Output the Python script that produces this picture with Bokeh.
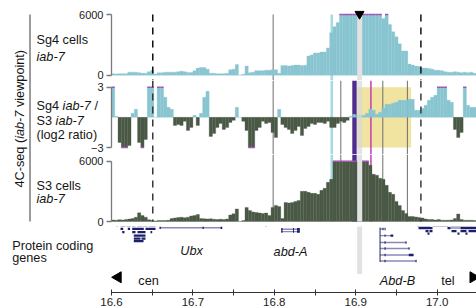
import math
from bokeh.plotting import figure
from bokeh.layouts import column, row
from bokeh.models import Range1d, FixedTicker, PrintfTickFormatter, Label
from bokeh.embed import file_html
from bokeh.resources import INLINE

FONT = "Liberation Sans"

# ---------------- data ----------------
BIN_START = 16.600   # Mb
BIN_WIDTH = 0.004    # Mb
COUNT_MAX = 6000
RATIO_MAX = 3.0

sg4_counts = [
    150, 120, 150, 150, 150, 300, 300, 300, 250, 200,
    200, 350, 480, 120, 230, 250, 300, 300, 300, 300,
    350, 400, 350, 270, 270, 430, 700, 760, 760, 600,
    200, 200, 150, 150, 150, 200, 550, 600, 1050, 0,
    100, 900, 250, 300, 450, 450, 450, 500, 500, 550,
    550, 200, 950, 950, 900, 950, 1000, 1000, 950, 980,
    1900, 2000, 2200, 2200, 2300, 2300, 2700, 4200, 4800, 5200,
    6000, 6000, 6000, 6000, 6000, 6000, 6000, 6000, 6000, 6000,
    6000, 6000, 6000, 5600, 6000, 5000, 4300, 3800, 3100, 2400,
    2400, 1100, 1000, 900, 850, 700, 700, 650, 600, 500,
    500, 450, 350, 300, 300, 350, 300, 250, 300, 250,
    300, 200]

ratio_log2 = [
    3.0, 0.1, -2.5, -3.0, -3.0, -2.8, 0.4, 0.8, -2.5, -3.0,
    -2.2, 3.0, 3.0, 0.0, 3.0, 3.0, 2.0, 1.0, 0.8, -0.8,
    -0.7, -0.8, -0.4, -1.3, -1.0, 0.2, -0.8, 0.4, 2.0, 2.6,
    -1.9, -1.6, -1.0, -0.6, -1.2, -1.0, -0.5, -0.3, 1.0, 0.0,
    -0.4, -1.3, -3.0, -3.0, -1.3, -1.0, -0.4, -0.6, -0.5, -1.5,
    -2.0, 0.8, -0.7, -1.0, -1.2, -1.6, -1.3, -0.9, -1.8, -1.1,
    -0.9, -0.6, -0.7, -0.5, -0.5, -0.6, -0.4, -1.0, -1.0, -0.6,
    -0.4, -0.5, -0.3, 0.1, 0.3, 0.2, 0.2, 0.2, 0.4, 0.8,
    0.7, 0.3, 0.5, 0.9, 1.3, 1.3, 1.4, 1.5, 1.7, 1.7,
    1.7, 1.8, 1.8, 0.7, 0.7, 0.9, 1.2, 1.7, 2.0, 2.2,
    3.0, 3.0, 3.0, 1.7, 1.5, -1.2, -2.0, -1.5, 3.0, 1.2,
    1.0, 1.0]

s3_counts = [
    150, 120, 180, 150, 200, 250, 300, 430, 860, 600,
    430, 170, 120, 60, 100, 100, 100, 120, 300, 350,
    400, 430, 380, 430, 550, 600, 700, 300, 270, 250,
    270, 220, 200, 230, 200, 250, 650, 760, 1250, 0,
    100, 1400, 1100, 950, 900, 850, 800, 850, 600, 1400,
    1600, 1500, 300, 1900, 1850, 1900, 2000, 2100, 3000, 3000,
    2900, 2800, 2800, 2700, 3100, 3300, 3900, 4200, 6000, 6000,
    6000, 6000, 6000, 6000, 6000, 6000, 6000, 6000, 6000, 5600,
    4700, 4600, 4300, 4200, 3600, 2900, 2700, 2000, 1600, 1100,
    800, 500, 500, 450, 400, 350, 250, 200, 200, 150,
    200, 130, 130, 130, 150, 300, 750, 200, 120, 130,
    120, 100]

x_major_ticks = [16.6, 16.7, 16.8, 16.9, 17.0]
x_minor_ticks = [16.65, 16.75, 16.85, 16.95]
LOCUS_START = 16.6

# annotations along the locus (Mb)
dashed_lines_mb = [16.6507, 16.9801]
gray_lines_full_mb = [16.7986]
gray_lines_lower_mb = [16.8817, 16.9333, 16.9635]
cyan_band_mb = (16.8690, 16.8722)
purple_band_mb = (16.8958, 16.9012)
gray_band_mb = (16.9018, 16.9079)
magenta_line_mb = 16.9187
viewpoint_mb = 16.9047
yellow_box_mb = (16.9018, 16.9681)

# gene models: exons (dark) and introns (light); row = offset (px) below the track top
exon_left = [16.6590, 16.7118, 16.7340,
             16.8085, 16.8230, 16.8279, 16.8085, 16.8230, 16.8279,
             16.7892,
             16.9293,
             16.60614, 16.61106, 16.61843, 16.62543, 16.63157, 16.63894, 16.64582,
             16.61106, 16.62002, 16.62543, 16.64177,
             16.61314, 16.62543, 16.63194, 16.64791,
             16.62740, 16.62740, 16.63686, 16.62740,
             16.97555, 16.99435, 17.01646,
             16.97715, 17.01278, 17.02875,
             16.98575, 16.99066, 17.01769, 17.02875, 17.03857,
             16.98821, 17.02506, 17.03489]
exon_right = [16.6606, 16.7134, 16.7360,
              16.8101, 16.8242, 16.8313, 16.8101, 16.8242, 16.8313,
              16.7904,
              16.9305,
              16.60799, 16.61720, 16.62334, 16.62948, 16.63771, 16.64386, 16.65405,
              16.61437, 16.62282, 16.63968, 16.65405,
              16.61597, 16.62948, 16.64177, 16.65000,
              16.64177, 16.63563, 16.64177, 16.63931,
              16.99189, 17.01400, 17.04840,
              16.99435, 17.01646, 17.04840,
              16.98943, 16.99435, 17.02383, 17.03612, 17.04840,
              16.99066, 17.02752, 17.03735]
exon_row = [3.3, 3.3, 3.3,
            4.7, 4.7, 4.7, 7.0, 7.0, 7.0,
            1.0,
            20.0,
            1.0, 1.0, 1.0, 1.0, 1.0, 1.0, 1.0,
            4.3, 4.3, 4.3, 4.3,
            7.5, 7.5, 7.5, 7.5,
            11.0, 14.0, 14.0, 16.5,
            0.8, 0.8, 0.8,
            3.5, 3.5, 3.5,
            6.5, 6.5, 6.5, 6.5, 6.5,
            9.0, 9.0, 9.0]
exon_half = [1.2] * 10 + [17.0] + [1.1] * 33

intron_left = [16.6593, 16.8085, 16.8085, 17.01646]
intron_right = [16.7360, 16.8313, 16.8313, 17.02875]
intron_row = [3.3, 4.7, 7.0, 3.5]

# Abd-B transcripts
abdb_start = 16.9299
abdb_ends = [16.9342, 16.9461, 16.9624, 16.9661, 16.9710, 16.9747]
abdb_last_exon = [16.9330, 16.9428, 16.9612, 16.9649, 16.9652, 16.9735]
abdb_rows = [4.5, 11.0, 17.7, 23.7, 30.0, 36.0]

gene_names = ["Ubx", "abd-A", "Abd-B"]
gene_label_mb = [16.6983, 16.8199, 16.9513]
gene_label_row = [26.5, 27.5, 55.5]

# ---------------- styling / layout ----------------
LIGHT_BLUE = "#88c5d1"
PALE_CYAN = "#a6dbe4"
DARK_GREEN = "#4a5945"
CAP = "#a455b4"
PURPLE = "#4f2d8f"
MAGENTA = "#c23fa9"
GRAY_LINE = "#6e6e6e"
GRAY_BAND = "#e2e2e2"
DASH = "#3a3a3a"
YELLOW = "#f1e3a0"
GENE_DARK = "#1d1f6b"
GENE_LIGHT = "#8a8ab8"
TXT = "#151515"
LBL_PX = 12.7
LBL_SIZE = "12.7px"

PX_PER_MB = 814.0
AXIS_X = 111        # page x of 16.6 Mb
PAGE_RIGHT = 476
TRACK_LEFT = 31     # page x where the three data panels begin

ARIAL_W = {' ': 278, '(': 333, ')': 333, '-': 333, '/': 278, '4': 556, '3': 556,
           '7': 556, 'C': 722, 'S': 667, 'a': 556, 'b': 556, 'e': 556, 'g': 556,
           'i': 222, 'n': 556, 'o': 556, 'p': 556, 'q': 556, 's': 500, 't': 278,
           'v': 500, 'w': 722, 'l': 222, 'r': 333, 'c': 500, '2': 556}


def tw(s, px):
    return sum(ARIAL_W.get(c, 556) for c in s) * px / 1000.0


def lin_range(v_hi, y_hi, v_lo, y_lo, top, bottom):
    k = (v_hi - v_lo) / (y_lo - y_hi)
    start = v_lo - (bottom - y_lo) * k
    end = v_hi + (y_hi - top) * k
    return (start, end), (lambda y: v_lo - (y - y_lo) * k)


def panel(page_left, height, yr, xaxis=False):
    xr = Range1d(LOCUS_START - (AXIS_X - page_left) / PX_PER_MB,
                 LOCUS_START + (PAGE_RIGHT - AXIS_X) / PX_PER_MB)
    p = figure(width=PAGE_RIGHT - page_left, height=height, x_range=xr,
               y_range=Range1d(*yr), output_backend="svg", toolbar_location=None,
               x_axis_location="below" if xaxis else None,
               y_axis_location=None if xaxis else "left",
               min_border_left=0, min_border_right=0,
               min_border_top=0, min_border_bottom=0,
               outline_line_color=None, background_fill_color="white",
               border_fill_color="white")
    p.grid.visible = False
    return p


def style_y(p, ticks, bounds):
    ax = p.yaxis[0]
    ax.fixed_location = LOCUS_START
    ax.ticker = FixedTicker(ticks=ticks)
    ax.bounds = bounds
    ax.axis_line_color = "#7a7a7a"
    ax.axis_line_width = 1.3
    ax.major_tick_line_color = "#7a7a7a"
    ax.major_tick_line_width = 1.3
    ax.major_tick_in = 0
    ax.major_tick_out = 5
    ax.minor_tick_line_color = None
    ax.major_label_text_font = FONT
    ax.major_label_text_font_size = "11px"
    ax.major_label_text_color = "#222222"
    ax.major_label_standoff = 3


def add_label_line(p, frame_left, page_x, y_val, pieces):
    x = page_x - frame_left
    for txt, style in pieces:
        lead = len(txt) - len(txt.lstrip(' '))
        t = txt.strip(' ')
        p.add_layout(Label(x=x + tw(' ' * lead, LBL_PX), y=y_val, x_units="screen",
                           y_units="data", text=t, text_font=FONT, text_font_size=LBL_SIZE,
                           text_font_style=style, text_color=TXT,
                           text_baseline="alphabetic", text_align="left"))
        x += tw(txt, LBL_PX)


n = len(sg4_counts)
lefts = [BIN_START + i * BIN_WIDTH for i in range(n)]
rights = [l + BIN_WIDTH for l in lefts]

# ---------------- panel 1: Sg4 counts (page y 0..80) ----------------
r1, y1 = lin_range(COUNT_MAX, 14, 0, 74.7, 0, 80)
f1 = panel(TRACK_LEFT, 80, r1)
style_y(f1, [0, COUNT_MAX], (0, COUNT_MAX))
f1.quad(left=[cyan_band_mb[0]], right=[cyan_band_mb[1]], bottom=[r1[0]], top=[COUNT_MAX],
        fill_color=PALE_CYAN, line_color=None)
f1.segment(x0=gray_lines_full_mb, x1=gray_lines_full_mb, y0=r1[0], y1=COUNT_MAX,
           line_color=GRAY_LINE, line_width=1)
f1.quad(left=lefts, right=rights, bottom=0, top=[min(v, COUNT_MAX) for v in sg4_counts],
        fill_color=LIGHT_BLUE, line_color=LIGHT_BLUE, line_width=0.3)
sat = [i for i, v in enumerate(sg4_counts) if v >= COUNT_MAX]
f1.segment(x0=[lefts[i] for i in sat], x1=[rights[i] for i in sat], y0=COUNT_MAX, y1=COUNT_MAX,
           line_color=CAP, line_width=1.6)
f1.segment(x0=dashed_lines_mb, x1=dashed_lines_mb, y0=COUNT_MAX, y1=r1[0],
           line_color="#111111", line_width=1.5, line_dash="7 6")
f1.quad(left=[gray_band_mb[0]], right=[gray_band_mb[1]], bottom=[r1[0]], top=[COUNT_MAX],
        fill_color=GRAY_BAND, line_color=None)
f1.scatter(x=[viewpoint_mb], y=[y1(13.5)], marker="inverted_triangle", size=9,
           fill_color="black", line_color="black")
add_label_line(f1, TRACK_LEFT, 36, y1(39.0), [("Sg4 cells", "normal")])
add_label_line(f1, TRACK_LEFT, 36, y1(56.5), [("iab-7", "italic")])

# ---------------- panel 2: log2 ratio (page y 80..154) ----------------
r2, y2 = lin_range(RATIO_MAX, 86.7, -RATIO_MAX, 147, 80, 154)
f2 = panel(TRACK_LEFT, 74, r2)
style_y(f2, [-RATIO_MAX, RATIO_MAX], (-RATIO_MAX, RATIO_MAX))
f2.quad(left=[yellow_box_mb[0]], right=[yellow_box_mb[1]], bottom=[-RATIO_MAX], top=[RATIO_MAX],
        fill_color=YELLOW, line_color=None)
f2.quad(left=[cyan_band_mb[0]], right=[cyan_band_mb[1]], bottom=[r2[0]], top=[r2[1]],
        fill_color=PALE_CYAN, line_color=None)
f2.segment(x0=gray_lines_full_mb + gray_lines_lower_mb, x1=gray_lines_full_mb + gray_lines_lower_mb,
           y0=r2[0], y1=r2[1], line_color=GRAY_LINE, line_width=1)
f2.quad(left=[purple_band_mb[0]], right=[purple_band_mb[1]], bottom=[r2[0]], top=[r2[1]],
        fill_color=PURPLE, line_color=None)
f2.segment(x0=[magenta_line_mb], x1=[magenta_line_mb], y0=r2[0], y1=r2[1],
           line_color=MAGENTA, line_width=1.5)
rcol = [LIGHT_BLUE if v >= 0 else DARK_GREEN for v in ratio_log2]
f2.quad(left=lefts, right=rights, bottom=0,
        top=[max(-RATIO_MAX, min(RATIO_MAX, v)) for v in ratio_log2],
        fill_color=rcol, line_color=rcol, line_width=0.3)
satp = [i for i, v in enumerate(ratio_log2) if v >= RATIO_MAX]
satn = [i for i, v in enumerate(ratio_log2) if v <= -RATIO_MAX]
f2.segment(x0=[lefts[i] for i in satp], x1=[rights[i] for i in satp], y0=RATIO_MAX, y1=RATIO_MAX,
           line_color=CAP, line_width=1.6)
f2.segment(x0=[lefts[i] for i in satn], x1=[rights[i] for i in satn], y0=-RATIO_MAX, y1=-RATIO_MAX,
           line_color=CAP, line_width=1.6)
f2.segment(x0=dashed_lines_mb, x1=dashed_lines_mb, y0=r2[1], y1=r2[0],
           line_color=DASH, line_width=1.5, line_dash="7 6")
f2.quad(left=[gray_band_mb[0]], right=[gray_band_mb[1]], bottom=[r2[0]], top=[r2[1]],
        fill_color="#d8d8d8", fill_alpha=0.72, line_color=None)
add_label_line(f2, TRACK_LEFT, 36, y2(105.3), [("Sg4 ", "normal"), ("iab-7", "italic"), (" /", "normal")])
add_label_line(f2, TRACK_LEFT, 36, y2(120.3), [("S3 ", "normal"), ("iab-7", "italic")])
add_label_line(f2, TRACK_LEFT, 36, y2(134.7), [("(log2 ratio)", "normal")])

# ---------------- panel 3: S3 counts (page y 154..226) ----------------
r3, y3 = lin_range(COUNT_MAX, 160.7, 0, 221, 154, 226)
f3 = panel(TRACK_LEFT, 72, r3)
style_y(f3, [0, COUNT_MAX], (0, COUNT_MAX))
f3.quad(left=[cyan_band_mb[0]], right=[cyan_band_mb[1]], bottom=[0], top=[r3[1]],
        fill_color=PALE_CYAN, line_color=None)
f3.segment(x0=gray_lines_full_mb + gray_lines_lower_mb, x1=gray_lines_full_mb + gray_lines_lower_mb,
           y0=0, y1=r3[1], line_color=GRAY_LINE, line_width=1)
f3.quad(left=[purple_band_mb[0]], right=[purple_band_mb[1]], bottom=[0], top=[r3[1]],
        fill_color=PURPLE, line_color=None)
f3.segment(x0=[magenta_line_mb], x1=[magenta_line_mb], y0=0, y1=r3[1],
           line_color=MAGENTA, line_width=1.5)
f3.quad(left=lefts, right=rights, bottom=0, top=[min(v, COUNT_MAX) for v in s3_counts],
        fill_color=DARK_GREEN, line_color=DARK_GREEN, line_width=0.3)
sat3 = [i for i, v in enumerate(s3_counts) if v >= COUNT_MAX]
f3.segment(x0=[lefts[i] for i in sat3], x1=[rights[i] for i in sat3], y0=COUNT_MAX, y1=COUNT_MAX,
           line_color=CAP, line_width=1.6)
f3.segment(x0=dashed_lines_mb, x1=dashed_lines_mb, y0=r3[1], y1=0,
           line_color=DASH, line_width=1.5, line_dash="7 6")
f3.quad(left=[gray_band_mb[0]], right=[gray_band_mb[1]], bottom=[0], top=[r3[1]],
        fill_color=GRAY_BAND, line_color=None)
add_label_line(f3, TRACK_LEFT, 36, y3(185.0), [("S3 cells", "normal")])
add_label_line(f3, TRACK_LEFT, 36, y3(198.5), [("iab-7", "italic")])

# ---------------- panel 4: genes + x axis (page y 226..308, axis at 291) ----------------
TRACK_TOP = 224
f4 = panel(0, 82, (291 - TRACK_TOP, 226 - TRACK_TOP), xaxis=True)
xa = f4.xaxis[0]
xa.ticker = FixedTicker(ticks=x_major_ticks, minor_ticks=x_minor_ticks)
xa.formatter = PrintfTickFormatter(format="%.1f")
xa.bounds = (16.6, 17.1)
xa.axis_line_color = "#333333"
xa.axis_line_width = 1.2
xa.major_tick_line_color = "#333333"
xa.minor_tick_line_color = "#333333"
xa.major_tick_in = 3
xa.major_tick_out = 3
xa.minor_tick_in = 3
xa.minor_tick_out = 3
xa.major_label_text_font = FONT
xa.major_label_text_font_size = "11.5px"
xa.major_label_text_color = "#222222"
xa.major_label_standoff = 2

f4.quad(left=[gray_band_mb[0]], right=[gray_band_mb[1]], bottom=[48.7], top=[0],
        fill_color=GRAY_BAND, line_color=None)
f4.segment(x0=intron_left, x1=intron_right, y0=intron_row, y1=intron_row,
           line_color=GENE_LIGHT, line_width=1.4)
f4.segment(x0=[abdb_start] * len(abdb_ends), x1=abdb_ends, y0=abdb_rows, y1=abdb_rows,
           line_color=GENE_LIGHT, line_width=1.4)
f4.quad(left=abdb_last_exon, right=abdb_ends, bottom=[r - 1.2 for r in abdb_rows],
        top=[r + 1.2 for r in abdb_rows], fill_color=GENE_DARK, line_color=None)
f4.quad(left=[abdb_start + 0.0055] * len(abdb_rows), right=[abdb_start + 0.0068] * len(abdb_rows),
        bottom=[r - 1.2 for r in abdb_rows], top=[r + 1.2 for r in abdb_rows],
        fill_color=GENE_DARK, line_color=None)
f4.quad(left=exon_left, right=exon_right,
        bottom=[r - h for r, h in zip(exon_row, exon_half)],
        top=[r + h for r, h in zip(exon_row, exon_half)],
        fill_color=GENE_DARK, line_color=None)
for name, gx, gy in zip(gene_names, gene_label_mb, gene_label_row):
    f4.add_layout(Label(x=gx, y=gy, text=name, text_font=FONT, text_font_size=LBL_SIZE,
                        text_font_style="italic", text_color=TXT, text_align="center",
                        text_baseline="alphabetic"))
# centromere / telomere direction
f4.scatter(x=[16.6080], y=[52.0], marker="triangle", angle=math.pi / 2, size=11,
           fill_color="black", line_color="black")
f4.scatter(x=[17.0443], y=[52.0], marker="triangle", angle=-math.pi / 2, size=11,
           fill_color="black", line_color="black")
f4.add_layout(Label(x=16.6330, y=56.0, text="cen", text_font=FONT, text_font_size=LBL_SIZE,
                    text_color=TXT, text_align="left", text_baseline="alphabetic"))
f4.add_layout(Label(x=17.0050, y=56.0, text="tel", text_font=FONT, text_font_size=LBL_SIZE,
                    text_color=TXT, text_align="left", text_baseline="alphabetic"))
add_label_line(f4, 0, 11.7, 245.0 - TRACK_TOP, [("Protein coding", "normal")])
add_label_line(f4, 0, 11.7, 257.3 - TRACK_TOP, [("genes", "normal")])

# ---------------- left rotated title (page x 0..31, y 0..226) ----------------
lf = figure(width=TRACK_LEFT, height=226, x_range=Range1d(0, TRACK_LEFT), y_range=Range1d(226, 0),
            x_axis_location=None, y_axis_location=None, output_backend="svg",
            toolbar_location=None, min_border=0, outline_line_color=None)
lf.grid.visible = False
lf.segment(x0=[29.5], x1=[29.5], y0=[14], y1=[221], line_color="#7a7a7a", line_width=1.5)
ypos = 187.0
for txt, style in [("4C-seq (", "normal"), ("iab-7", "italic"), (" viewpoint)", "normal")]:
    lead = len(txt) - len(txt.lstrip(' '))
    t = txt.strip(' ')
    lf.add_layout(Label(x=19.5, y=ypos - tw(' ' * lead, LBL_PX), text=t, angle=math.pi / 2,
                        text_font=FONT, text_font_size=LBL_SIZE, text_font_style=style,
                        text_color=TXT, text_align="left", text_baseline="alphabetic"))
    ypos -= tw(txt, LBL_PX)

layout = column(row(lf, column(f1, f2, f3)), f4)
open("out.html", "w").write(file_html(layout, INLINE))
